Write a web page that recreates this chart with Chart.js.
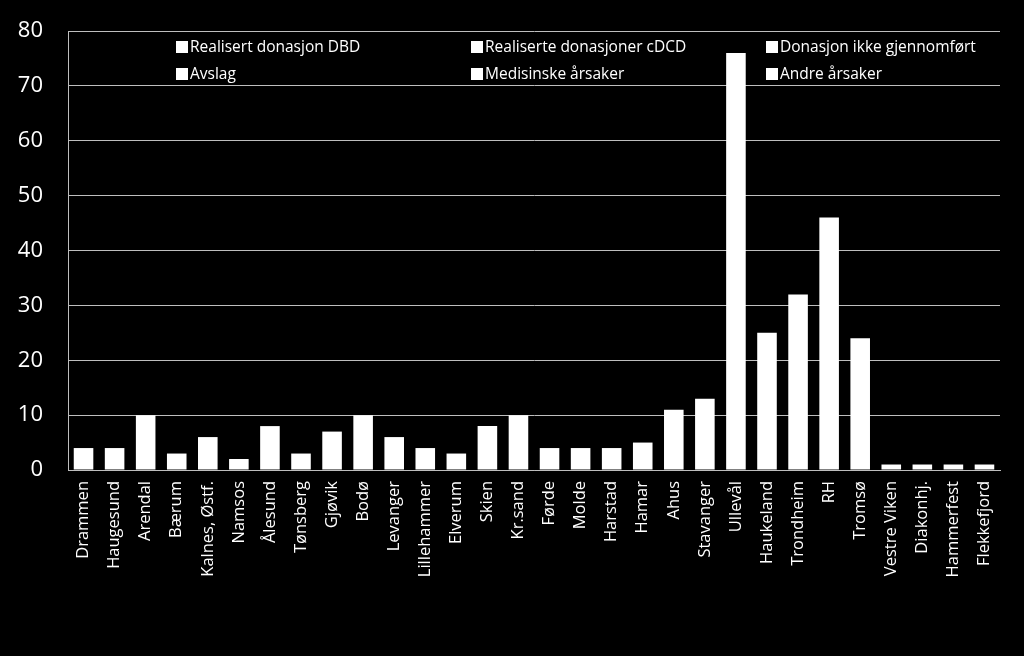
<!DOCTYPE html>
<html>
<head>
<meta charset="utf-8">
<script src="https://cdn.jsdelivr.net/npm/chart.js@4"></script>
<style>
    html, body { margin: 0; padding: 0; background: #000; }
    #wrap { width: 1024px; height: 656px; }
</style>
</head>
<body>
<div id="wrap"><canvas id="donor-chart" width="1024" height="656"></canvas></div>
<script>
// sykehus (x-akse)
const hospitals = ['Drammen','Haugesund','Arendal','Bærum','Kalnes, Østf.','Namsos','Ålesund','Tønsberg','Gjøvik','Bodø',
    'Levanger','Lillehammer','Elverum','Skien','Kr.sand','Førde','Molde','Harstad','Hamar','Ahus',
    'Stavanger','Ullevål','Haukeland','Trondheim','RH','Tromsø','Vestre Viken','Diakonhj.','Hammerfest','Flekkefjord']
const counts = [4,4,10,3,6,2,8,3,7,10,
    6,4,3,8,10,4,4,4,5,11,
    13,76,25,32,46,24,1,1,1,1]
const seriesNames = ['Realisert donasjon DBD','Realiserte donasjoner cDCD','Donasjon ikke gjennomført',
    'Avslag','Medisinske årsaker','Andre årsaker']
const yTicks = [0,10,20,30,40,50,60,70,80]

const FONT = "'Open Sans', sans-serif"
const gridCol = 'rgba(190,190,190,1)'

// legend drawn inside the plot, 3 columns x 2 rows (like the excel one)
const insideLegend = {
    id: 'insideLegend',
    afterDraw(chart){
        const ctx = chart.ctx
        const a = chart.chartArea
        ctx.save()
        ctx.font = `15.5px ${FONT}`
        ctx.textBaseline = 'middle'
        ctx.fillStyle = '#fff'
        seriesNames.forEach((name,i)=>{
            let col = i % 3
            let row = Math.floor(i/3)
            let x = a.left + 108 + col*295
            let y = a.top + 16 + row*27
            ctx.fillRect(x, y-6, 12, 12)
            ctx.fillText(name, x+14, y+1)
        })
        ctx.restore()
    }
}

const chartEle = document.getElementById('donor-chart')
const chart = new Chart(chartEle,{
    type:'bar',
    data:{
        labels: hospitals,
        datasets:[{
            label: seriesNames[0],
            data: counts,
            backgroundColor:'#ffffff',
            borderWidth:0,
            categoryPercentage:0.9,
            barPercentage:0.7,
        }]
    },
    options:{
        responsive:false,
        animation:false,
        layout:{padding:{top:31,right:24,left:0,bottom:0}},
        plugins:{legend:{display:false},tooltip:{enabled:false}},
        scales:{
            x:{
                grid:{display:false,drawTicks:false},
                border:{color:gridCol,width:1},
                ticks:{color:'#fff',font:{family:FONT,size:16.5},minRotation:90,maxRotation:90,padding:11,autoSkip:false},
                afterFit(s){ s.height = 186; s.paddingLeft = 0; s.paddingRight = 0 }
            },
            y:{
                min:0,max:80,
                afterBuildTicks(s){ s.ticks = yTicks.map(v=>({value:v})) },
                grid:{color:gridCol,lineWidth:1,drawTicks:false},
                border:{color:gridCol,width:1},
                ticks:{color:'#fff',font:{family:FONT,size:22},padding:25},
                afterFit(s){ s.width = 68; s.paddingTop = 0; s.paddingBottom = 0 }
            }
        }
    },
    plugins:[insideLegend]
})
</script>
</body>
</html>
